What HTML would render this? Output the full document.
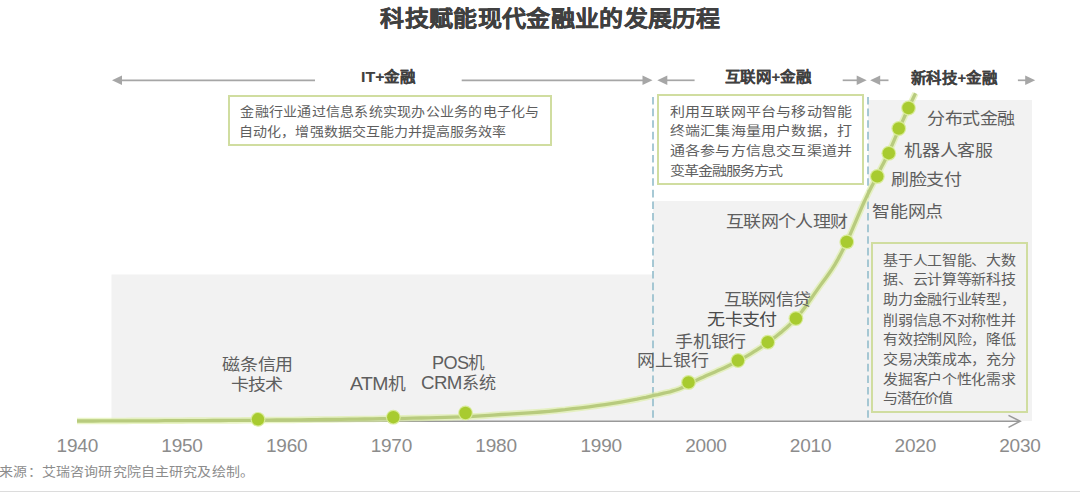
<!DOCTYPE html>
<html lang="zh-CN"><head><meta charset="utf-8">
<style>
html,body{margin:0;padding:0;background:#fff;}
body{width:1080px;height:492px;position:relative;overflow:hidden;font-family:"Liberation Sans",sans-serif;}
.t{position:absolute;white-space:nowrap;transform-origin:0 0;}
.bx{position:absolute;box-sizing:border-box;border:2px solid #d0dda0;}
</style></head><body>
<svg width="1080" height="492" style="position:absolute;left:0;top:0">
  <rect x="111.5" y="274.5" width="542" height="147" fill="#f2f2f2"/>
  <rect x="653" y="201" width="215" height="220" fill="#f2f2f2"/>
  <rect x="868" y="100" width="164" height="321" fill="#f2f2f2"/>
  <g stroke="#a6a6a6" stroke-width="1.7" fill="none">
    <line x1="120" y1="80.3" x2="315" y2="80.3"/>
    <line x1="461.7" y1="80.3" x2="645" y2="80.3"/>
    <line x1="665" y1="80.3" x2="694.6" y2="80.3"/>
    <line x1="842.7" y1="80.3" x2="859" y2="80.3"/>
    <line x1="878" y1="80.3" x2="888.5" y2="80.3"/>
    <line x1="1017.9" y1="80.3" x2="1028" y2="80.3"/>
  </g>
  <g fill="#a6a6a6">
    <path d="M112,80.3 L122,75.6 L122,85 Z"/>
    <path d="M652.5,80.3 L642.5,75.6 L642.5,85 Z"/>
    <path d="M657.3,80.3 L667.3,75.6 L667.3,85 Z"/>
    <path d="M866.7,80.3 L856.7,75.6 L856.7,85 Z"/>
    <path d="M870.2,80.3 L880.2,75.6 L880.2,85 Z"/>
    <path d="M1035.2,80.3 L1025.2,75.6 L1025.2,85 Z"/>
  </g>
  <g stroke="#92bccb" stroke-width="1.6" stroke-dasharray="7.6,4">
    <line x1="653" y1="97" x2="653" y2="418"/>
    <line x1="868" y1="97" x2="868" y2="418"/>
  </g>
  <g stroke="#999999" stroke-width="1.5" fill="none">
    <line x1="77" y1="421.3" x2="1019" y2="421.3"/>
    <path d="M1008.5,415.3 L1020.2,421.3 L1008.5,427.4"/>
  </g>
  <path d="M77.0,421.0 L85.0,421.0 L93.0,421.0 L101.0,420.9 L109.0,420.9 L117.0,420.9 L125.0,420.9 L133.0,420.8 L141.0,420.8 L149.0,420.8 L157.0,420.8 L165.0,420.7 L173.0,420.7 L181.0,420.7 L189.0,420.6 L197.0,420.6 L205.0,420.6 L213.0,420.5 L221.0,420.5 L229.0,420.4 L237.0,420.4 L245.0,420.3 L253.0,420.3 L261.0,420.2 L269.0,420.1 L277.0,420.0 L285.0,420.0 L293.0,419.9 L301.0,419.8 L309.0,419.7 L317.0,419.6 L325.0,419.5 L333.0,419.4 L341.0,419.3 L349.0,419.2 L357.0,419.1 L365.0,419.0 L373.0,418.9 L381.0,418.7 L389.0,418.6 L397.0,418.5 L405.0,418.3 L413.0,418.1 L421.0,418.0 L429.0,417.8 L437.0,417.6 L445.0,417.4 L453.0,417.2 L461.0,416.9 L469.0,416.6 L477.0,416.2 L485.0,415.7 L493.0,415.1 L501.0,414.5 L509.0,414.1 L517.0,413.6 L525.0,413.1 L533.0,412.6 L541.0,412.0 L549.0,411.3 L557.0,410.5 L565.0,409.7 L573.0,408.7 L581.0,407.8 L589.0,406.8 L597.0,405.7 L605.0,404.6 L613.0,403.4 L621.0,402.1 L629.0,400.7 L637.0,399.2 L640.0,398.5 L643.0,397.9 L646.0,397.3 L649.0,396.6 L652.0,395.9 L655.0,395.2 L658.0,394.6 L661.0,393.9 L664.0,393.2 L667.0,392.5 L670.0,391.8 L673.0,390.9 L676.0,390.0 L679.0,389.0 L682.0,387.7 L685.0,386.0 L688.0,384.3 L691.0,382.7 L694.0,381.3 L697.0,379.9 L700.0,378.5 L703.0,377.2 L706.0,375.8 L709.0,374.5 L712.0,373.2 L715.0,371.9 L718.0,370.6 L721.0,369.3 L724.0,367.9 L727.0,366.5 L730.0,365.1 L733.0,363.6 L736.0,362.1 L739.0,360.5 L742.0,358.8 L745.0,357.1 L748.0,355.4 L751.0,353.6 L754.0,351.7 L757.0,349.8 L760.0,347.9 L763.0,345.9 L766.0,343.8 L769.0,341.6 L772.0,339.4 L775.0,337.2 L778.0,334.8 L781.0,332.4 L784.0,329.8 L787.0,327.2 L790.0,324.4 L793.0,321.5 L796.0,318.4 L799.0,315.0 L802.0,311.3 L805.0,307.3 L808.0,303.1 L811.0,298.7 L814.0,294.4 L817.0,290.1 L820.0,285.9 L823.0,281.8 L826.0,277.7 L829.0,273.5 L832.0,269.1 L835.0,264.4 L838.0,259.1 L841.0,253.4 L844.0,247.4 L846.0,243.3 L847.5,240.1 L849.0,236.9 L850.5,233.6 L852.0,230.2 L853.5,226.7 L855.0,223.2 L856.5,219.7 L858.0,216.1 L859.5,212.6 L861.0,209.1 L862.5,205.7 L864.0,202.3 L865.5,199.1 L867.0,195.9 L868.5,192.8 L870.0,189.8 L871.5,186.8 L873.0,183.9 L874.5,180.9 L876.0,178.0 L877.5,175.0 L879.0,172.0 L880.5,169.1 L882.0,166.1 L883.5,163.2 L885.0,160.2 L886.5,157.2 L888.0,154.1 L889.5,150.9 L891.0,147.6 L892.5,144.1 L894.0,140.6 L895.5,137.1 L897.0,133.6 L898.5,130.1 L900.0,126.8 L901.5,123.4 L903.0,120.1 L904.5,116.8 L906.0,113.5 L907.5,110.2 L909.0,107.0 L910.5,103.8 L912.0,100.6 L913.5,97.5 L915.0,94.4 L915.5,93.3" stroke="#dcefa0" stroke-width="6.5" fill="none" opacity="0.6"/>
  <path d="M77.0,421.0 L85.0,421.0 L93.0,421.0 L101.0,420.9 L109.0,420.9 L117.0,420.9 L125.0,420.9 L133.0,420.8 L141.0,420.8 L149.0,420.8 L157.0,420.8 L165.0,420.7 L173.0,420.7 L181.0,420.7 L189.0,420.6 L197.0,420.6 L205.0,420.6 L213.0,420.5 L221.0,420.5 L229.0,420.4 L237.0,420.4 L245.0,420.3 L253.0,420.3 L261.0,420.2 L269.0,420.1 L277.0,420.0 L285.0,420.0 L293.0,419.9 L301.0,419.8 L309.0,419.7 L317.0,419.6 L325.0,419.5 L333.0,419.4 L341.0,419.3 L349.0,419.2 L357.0,419.1 L365.0,419.0 L373.0,418.9 L381.0,418.7 L389.0,418.6 L397.0,418.5 L405.0,418.3 L413.0,418.1 L421.0,418.0 L429.0,417.8 L437.0,417.6 L445.0,417.4 L453.0,417.2 L461.0,416.9 L469.0,416.6 L477.0,416.2 L485.0,415.7 L493.0,415.1 L501.0,414.5 L509.0,414.1 L517.0,413.6 L525.0,413.1 L533.0,412.6 L541.0,412.0 L549.0,411.3 L557.0,410.5 L565.0,409.7 L573.0,408.7 L581.0,407.8 L589.0,406.8 L597.0,405.7 L605.0,404.6 L613.0,403.4 L621.0,402.1 L629.0,400.7 L637.0,399.2 L640.0,398.5 L643.0,397.9 L646.0,397.3 L649.0,396.6 L652.0,395.9 L655.0,395.2 L658.0,394.6 L661.0,393.9 L664.0,393.2 L667.0,392.5 L670.0,391.8 L673.0,390.9 L676.0,390.0 L679.0,389.0 L682.0,387.7 L685.0,386.0 L688.0,384.3 L691.0,382.7 L694.0,381.3 L697.0,379.9 L700.0,378.5 L703.0,377.2 L706.0,375.8 L709.0,374.5 L712.0,373.2 L715.0,371.9 L718.0,370.6 L721.0,369.3 L724.0,367.9 L727.0,366.5 L730.0,365.1 L733.0,363.6 L736.0,362.1 L739.0,360.5 L742.0,358.8 L745.0,357.1 L748.0,355.4 L751.0,353.6 L754.0,351.7 L757.0,349.8 L760.0,347.9 L763.0,345.9 L766.0,343.8 L769.0,341.6 L772.0,339.4 L775.0,337.2 L778.0,334.8 L781.0,332.4 L784.0,329.8 L787.0,327.2 L790.0,324.4 L793.0,321.5 L796.0,318.4 L799.0,315.0 L802.0,311.3 L805.0,307.3 L808.0,303.1 L811.0,298.7 L814.0,294.4 L817.0,290.1 L820.0,285.9 L823.0,281.8 L826.0,277.7 L829.0,273.5 L832.0,269.1 L835.0,264.4 L838.0,259.1 L841.0,253.4 L844.0,247.4 L846.0,243.3 L847.5,240.1 L849.0,236.9 L850.5,233.6 L852.0,230.2 L853.5,226.7 L855.0,223.2 L856.5,219.7 L858.0,216.1 L859.5,212.6 L861.0,209.1 L862.5,205.7 L864.0,202.3 L865.5,199.1 L867.0,195.9 L868.5,192.8 L870.0,189.8 L871.5,186.8 L873.0,183.9 L874.5,180.9 L876.0,178.0 L877.5,175.0 L879.0,172.0 L880.5,169.1 L882.0,166.1 L883.5,163.2 L885.0,160.2 L886.5,157.2 L888.0,154.1 L889.5,150.9 L891.0,147.6 L892.5,144.1 L894.0,140.6 L895.5,137.1 L897.0,133.6 L898.5,130.1 L900.0,126.8 L901.5,123.4 L903.0,120.1 L904.5,116.8 L906.0,113.5 L907.5,110.2 L909.0,107.0 L910.5,103.8 L912.0,100.6 L913.5,97.5 L915.0,94.4 L915.5,93.3" stroke="#b8cb7e" stroke-width="3.3" fill="none"/>
  <g fill="#a8cb30">
<circle cx="258" cy="419.3" r="7.4" fill="#d8eb98"/>
<circle cx="393.3" cy="417.2" r="7.4" fill="#d8eb98"/>
<circle cx="465.5" cy="413" r="7.4" fill="#d8eb98"/>
<circle cx="688.5" cy="382.4" r="7.4" fill="#d8eb98"/>
<circle cx="738" cy="360.5" r="7.4" fill="#d8eb98"/>
<circle cx="767.8" cy="342.2" r="7.4" fill="#d8eb98"/>
<circle cx="795.9" cy="318.5" r="7.4" fill="#d8eb98"/>
<circle cx="846.8" cy="241.9" r="7.4" fill="#d8eb98"/>
<circle cx="877.3" cy="176.4" r="7.4" fill="#d8eb98"/>
<circle cx="888.8" cy="153.2" r="7.4" fill="#d8eb98"/>
<circle cx="898.8" cy="128.5" r="7.4" fill="#d8eb98"/>
<circle cx="908.5" cy="108" r="7.4" fill="#d8eb98"/>
<circle cx="258" cy="419.3" r="6.2"/>
<circle cx="393.3" cy="417.2" r="6.2"/>
<circle cx="465.5" cy="413" r="6.2"/>
<circle cx="688.5" cy="382.4" r="6.2"/>
<circle cx="738" cy="360.5" r="6.2"/>
<circle cx="767.8" cy="342.2" r="6.2"/>
<circle cx="795.9" cy="318.5" r="6.2"/>
<circle cx="846.8" cy="241.9" r="6.2"/>
<circle cx="877.3" cy="176.4" r="6.2"/>
<circle cx="888.8" cy="153.2" r="6.2"/>
<circle cx="898.8" cy="128.5" r="6.2"/>
<circle cx="908.5" cy="108" r="6.2"/>
  </g>
  <line x1="0" y1="491.5" x2="1080" y2="491.5" stroke="#dcdcdc" stroke-width="1"/>
</svg>
<div class="bx" style="left:228px;top:94.5px;width:324px;height:51px;background:#fff"></div>
<div class="bx" style="left:657px;top:94px;width:207px;height:91px;background:#fff"></div>
<div class="bx" style="left:871px;top:242px;width:157px;height:171px;background:#f2f2f2"></div>
<div class="t" style="left:380.28px;top:8.12px;font-size:24px;letter-spacing:0.325px;transform:scale(1,0.9);color:#404040;font-weight:bold;line-height:24px;-webkit-text-stroke:0.4px #404040">科技赋能现代金融业的发展历程</div>
<div class="t" style="left:361.00px;top:68.92px;font-size:16px;letter-spacing:0px;transform:scale(0.9656,0.9);color:#404040;font-weight:bold;line-height:16px;-webkit-text-stroke:0.12px #404040"><span style="font-size:16.5px">IT+</span>金融</div>
<div class="t" style="left:724.76px;top:70.40px;font-size:16px;letter-spacing:0px;transform:scale(0.9667,0.9);color:#404040;font-weight:bold;line-height:16px;-webkit-text-stroke:0.12px #404040">互联网<span style="font-size:15.5px">+</span>金融</div>
<div class="t" style="left:910.92px;top:70.56px;font-size:16px;letter-spacing:0px;transform:scale(0.9667,0.9);color:#404040;font-weight:bold;line-height:16px;-webkit-text-stroke:0.12px #404040">新科技<span style="font-size:15.5px">+</span>金融</div>
<div class="t" style="left:240.32px;top:104.68px;font-size:14px;letter-spacing:0.255px;transform:scale(1,0.92);color:#5e5e5e;font-weight:normal;line-height:14px">金融行业通过信息系统实现办公业务的电子化与</div>
<div class="t" style="left:239.32px;top:125.16px;font-size:14px;letter-spacing:0.045px;transform:scale(1,0.92);color:#5e5e5e;font-weight:normal;line-height:14px">自动化，增强数据交互能力并提高服务效率</div>
<div class="t" style="left:669.76px;top:104.84px;font-size:15px;letter-spacing:0.208px;transform:scale(1,0.87);color:#5e5e5e;font-weight:normal;line-height:15px">利用互联网平台与移动智能</div>
<div class="t" style="left:669.76px;top:124.12px;font-size:15px;letter-spacing:0.208px;transform:scale(1,0.87);color:#5e5e5e;font-weight:normal;line-height:15px">终端汇集海量用户数据，打</div>
<div class="t" style="left:669.76px;top:144.40px;font-size:15px;letter-spacing:0.208px;transform:scale(1,0.87);color:#5e5e5e;font-weight:normal;line-height:15px">通各参与方信息交互渠道并</div>
<div class="t" style="left:669.76px;top:163.68px;font-size:15px;letter-spacing:-0.97px;transform:scale(1,0.87);color:#5e5e5e;font-weight:normal;line-height:15px">变革金融服务方式</div>
<div class="t" style="left:883.12px;top:254.16px;font-size:15px;letter-spacing:-0.3px;transform:scale(1,0.875);color:#5e5e5e;font-weight:normal;line-height:15px">基于人工智能、大数</div>
<div class="t" style="left:883.12px;top:272.78px;font-size:15px;letter-spacing:-0.3px;transform:scale(1,0.875);color:#5e5e5e;font-weight:normal;line-height:15px">据、云计算等新科技</div>
<div class="t" style="left:883.12px;top:292.72px;font-size:15px;letter-spacing:-0.3px;transform:scale(1,0.875);color:#5e5e5e;font-weight:normal;line-height:15px">助力金融行业转型，</div>
<div class="t" style="left:883.12px;top:313.54px;font-size:15px;letter-spacing:-0.3px;transform:scale(1,0.875);color:#5e5e5e;font-weight:normal;line-height:15px">削弱信息不对称性并</div>
<div class="t" style="left:883.12px;top:333.28px;font-size:15px;letter-spacing:-0.3px;transform:scale(1,0.875);color:#5e5e5e;font-weight:normal;line-height:15px">有效控制风险，降低</div>
<div class="t" style="left:883.12px;top:353.10px;font-size:15px;letter-spacing:-0.3px;transform:scale(1,0.875);color:#5e5e5e;font-weight:normal;line-height:15px">交易决策成本，充分</div>
<div class="t" style="left:883.12px;top:373.32px;font-size:15px;letter-spacing:-0.3px;transform:scale(1,0.875);color:#5e5e5e;font-weight:normal;line-height:15px">发掘客户个性化需求</div>
<div class="t" style="left:883.12px;top:391.86px;font-size:15px;letter-spacing:-1.23px;transform:scale(1,0.875);color:#5e5e5e;font-weight:normal;line-height:15px">与潜在价值</div>
<div class="t" style="left:927.00px;top:110.28px;font-size:18px;letter-spacing:-0.5px;transform:scale(1,0.9);color:#5e5e5e;font-weight:normal;line-height:18px">分布式金融</div>
<div class="t" style="left:904.24px;top:142.36px;font-size:18px;letter-spacing:-0.35px;transform:scale(1,0.9);color:#5e5e5e;font-weight:normal;line-height:18px">机器人客服</div>
<div class="t" style="left:890.92px;top:170.88px;font-size:18px;letter-spacing:-0.3px;transform:scale(1,0.9);color:#5e5e5e;font-weight:normal;line-height:18px">刷脸支付</div>
<div class="t" style="left:872.20px;top:202.92px;font-size:18px;letter-spacing:-0.334px;transform:scale(1,0.9);color:#5e5e5e;font-weight:normal;line-height:18px">智能网点</div>
<div class="t" style="left:725.96px;top:212.92px;font-size:18px;letter-spacing:-0.617px;transform:scale(1,0.9);color:#5e5e5e;font-weight:normal;line-height:18px">互联网个人理财</div>
<div class="t" style="left:723.84px;top:291.40px;font-size:18px;letter-spacing:-0.675px;transform:scale(1,0.9);color:#5e5e5e;font-weight:normal;line-height:18px">互联网信贷</div>
<div class="t" style="left:707.12px;top:311.24px;font-size:18px;letter-spacing:-0.599px;transform:scale(1,0.9);color:#4a4a4a;font-weight:normal;line-height:18px">无卡支付</div>
<div class="t" style="left:675.20px;top:332.76px;font-size:18px;letter-spacing:-0.232px;transform:scale(1,0.9);color:#5e5e5e;font-weight:normal;line-height:18px">手机银行</div>
<div class="t" style="left:637.20px;top:352.40px;font-size:18px;letter-spacing:-0.001px;transform:scale(1,0.9);color:#5e5e5e;font-weight:normal;line-height:18px">网上银行</div>
<div class="t" style="left:222.16px;top:356.00px;font-size:18px;letter-spacing:-0.266px;transform:scale(1,0.9);color:#5e5e5e;font-weight:normal;line-height:18px">磁条信用</div>
<div class="t" style="left:230.56px;top:376.48px;font-size:18px;letter-spacing:-0.65px;transform:scale(1,0.9);color:#5e5e5e;font-weight:normal;line-height:18px">卡技术</div>
<div class="t" style="left:349.52px;top:374.72px;font-size:17px;letter-spacing:0px;transform:scale(1.0453,0.97);color:#5e5e5e;font-weight:normal;line-height:17px"><span style="font-size:18.6px;letter-spacing:-0.6px">ATM</span>机</div>
<div class="t" style="left:431.92px;top:353.72px;font-size:17px;letter-spacing:0px;transform:scale(0.9738,0.97);color:#5e5e5e;font-weight:normal;line-height:17px"><span style="font-size:18.6px;letter-spacing:-0.6px">POS</span>机</div>
<div class="t" style="left:420.88px;top:374.00px;font-size:17px;letter-spacing:0px;transform:scale(1.0054,0.97);color:#5e5e5e;font-weight:normal;line-height:17px"><span style="font-size:18.6px;letter-spacing:-0.6px">CRM</span>系统</div>
<div class="t" style="left:56.60px;top:436.40px;font-size:19px;letter-spacing:-0.2px;transform:scale(1,1.0);color:#8c8c8c;font-weight:normal;line-height:19px">1940</div>
<div class="t" style="left:161.28px;top:436.40px;font-size:19px;letter-spacing:-0.2px;transform:scale(1,1.0);color:#8c8c8c;font-weight:normal;line-height:19px">1950</div>
<div class="t" style="left:265.96px;top:436.40px;font-size:19px;letter-spacing:-0.2px;transform:scale(1,1.0);color:#8c8c8c;font-weight:normal;line-height:19px">1960</div>
<div class="t" style="left:370.64px;top:436.40px;font-size:19px;letter-spacing:-0.2px;transform:scale(1,1.0);color:#8c8c8c;font-weight:normal;line-height:19px">1970</div>
<div class="t" style="left:475.32px;top:436.40px;font-size:19px;letter-spacing:-0.2px;transform:scale(1,1.0);color:#8c8c8c;font-weight:normal;line-height:19px">1980</div>
<div class="t" style="left:580.50px;top:436.40px;font-size:19px;letter-spacing:-0.2px;transform:scale(1,1.0);color:#8c8c8c;font-weight:normal;line-height:19px">1990</div>
<div class="t" style="left:685.18px;top:436.40px;font-size:19px;letter-spacing:-0.2px;transform:scale(1,1.0);color:#8c8c8c;font-weight:normal;line-height:19px">2000</div>
<div class="t" style="left:789.86px;top:436.40px;font-size:19px;letter-spacing:-0.2px;transform:scale(1,1.0);color:#8c8c8c;font-weight:normal;line-height:19px">2010</div>
<div class="t" style="left:894.54px;top:436.40px;font-size:19px;letter-spacing:-0.2px;transform:scale(1,1.0);color:#8c8c8c;font-weight:normal;line-height:19px">2020</div>
<div class="t" style="left:999.22px;top:436.40px;font-size:19px;letter-spacing:-0.2px;transform:scale(1,1.0);color:#8c8c8c;font-weight:normal;line-height:19px">2030</div>
<div class="t" style="left:-0.68px;top:465.36px;font-size:14px;letter-spacing:0.147px;transform:scale(1,0.9);color:#8c8c8c;font-weight:normal;line-height:14px">来源：艾瑞咨询研究院自主研究及绘制。</div>
</body></html>
